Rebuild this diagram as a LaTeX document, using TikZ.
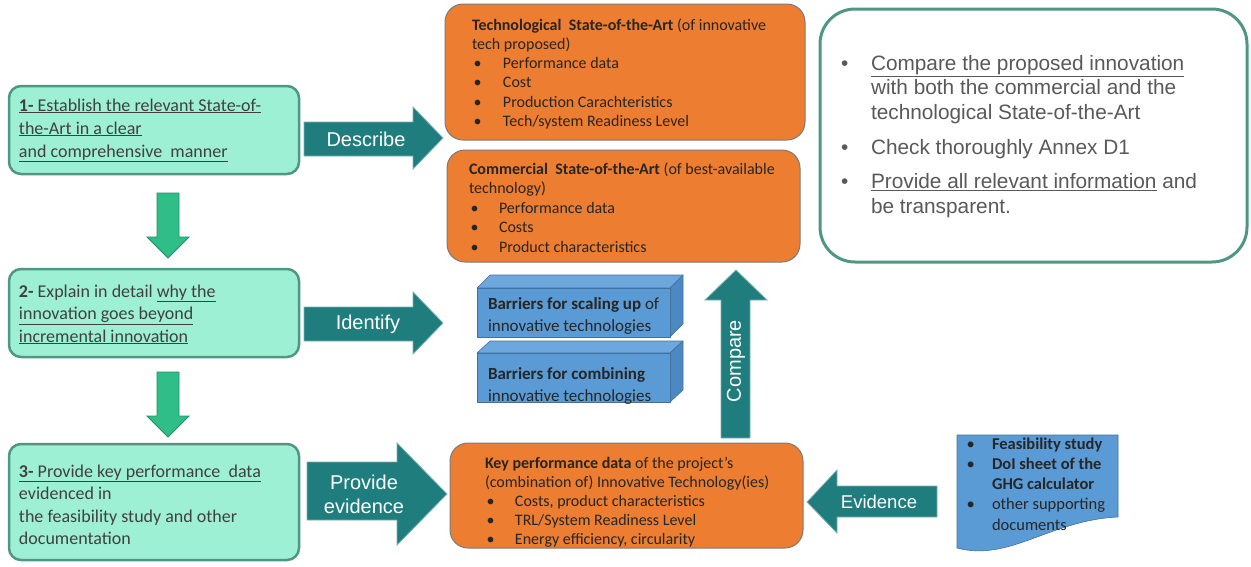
\documentclass[tikz,border=0pt]{standalone}
\usepackage{fontspec}
\setmainfont{Carlito}
\newfontfamily\arial{Liberation Sans}
\definecolor{mint}{HTML}{9EF0D5}
\definecolor{mintborder}{HTML}{4F9784}
\definecolor{txtgray}{HTML}{404040}
\definecolor{teal1}{HTML}{1F7D7D}
\definecolor{greenarr}{HTML}{2FBE88}
\definecolor{orng}{HTML}{ED7D31}
\definecolor{orborder}{HTML}{7A7A7A}
\definecolor{bluef}{HTML}{5B9BD5}
\definecolor{bluetop}{HTML}{6DA7DD}
\definecolor{blueside}{HTML}{4C88C2}
\definecolor{blueborder}{HTML}{41719C}
\definecolor{notegray}{HTML}{595959}
\definecolor{dark}{HTML}{262626}
\newcommand{\itm}[2]{\makebox[#1][l]{\hspace{1.5pt}\textbullet}#2}
\begin{document}
\begin{tikzpicture}[x=1pt,y=-1pt,
 stepbox/.style={draw=mintborder, line width=2.5pt, fill=mint, rounded corners=12pt},
 orbox/.style={draw=orborder, line width=1pt, fill=orng, rounded corners=18pt},
 txt/.style={anchor=base west, inner sep=0pt, outer sep=0pt},
 tealarrow/.style={fill=teal1, draw=teal1!60!white, line width=0.8pt},
 greenarrow/.style={fill=greenarr, draw=greenarr!75!black, line width=0.8pt},
 lbl/.style={text=white, font=\arial\fontsize{20}{24}\selectfont, inner sep=0pt, align=center},
 blueface/.style={draw=blueborder, line width=0.6pt, line join=round},
]
\useasboundingbox (0,0) rectangle (1251,566);

% ---------- left step boxes ----------
\node[stepbox, minimum width=290pt, minimum height=88pt] (s1) at (154,130) {};
\node[stepbox, minimum width=290pt, minimum height=88pt] (s2) at (154,313) {};
\node[stepbox, minimum width=290pt, minimum height=116pt] (s3) at (154,502) {};

\node[txt, text=txtgray] (t1) at (19,111) {\parbox[t]{280pt}{\fontsize{18}{23}\selectfont
 \underline{\textbf{1-} Establish the relevant State-of-}\\
 \underline{the-Art in a clear}\\
 \underline{and comprehensive\ \ manner}}};
\node[txt, text=txtgray] (t2) at (19,297) {\parbox[t]{280pt}{\fontsize{18}{22.5}\selectfont
 \textbf{2-} Explain in detail \underline{why the}\\
 \underline{innovation goes beyond}\\
 \underline{incremental innovation}}};
\node[txt, text=txtgray] (t3) at (19,477) {\parbox[t]{280pt}{\fontsize{18}{22.5}\selectfont
 \underline{\textbf{3-} Provide key performance\ \ data}\\
 evidenced in\\
 the feasibility study and other\\
 documentation}};

% ---------- green down arrows ----------
\path[greenarrow] (157,193) -- (179,193) -- (179,237) -- (189,237) -- (168,258) -- (147,237) -- (157,237) -- cycle;
\path[greenarrow] (157,372) -- (179,372) -- (179,416) -- (189,416) -- (168,437) -- (147,416) -- (157,416) -- cycle;

% ---------- teal block arrows ----------
\path[tealarrow] (304,122) -- (413,122) -- (413,107) -- (443,138) -- (413,169) -- (413,156) -- (304,156) -- cycle;
\node[lbl] (ldescribe) at (366,139) {Describe};
\path[tealarrow] (304,307) -- (413,307) -- (413,292) -- (443,323) -- (413,354) -- (413,341) -- (304,341) -- cycle;
\node[lbl] (lidentify) at (368,324) {Identify};
\path[tealarrow] (307,462) -- (397,462) -- (397,443) -- (447,494) -- (397,545) -- (397,520) -- (307,520) -- cycle;
\node[lbl] (lprovide) at (364,494) {Provide\\evidence};
\path[tealarrow] (721,438) -- (721,300) -- (705,300) -- (736,270) -- (767,300) -- (750,300) -- (750,438) -- cycle;
\node[lbl, rotate=90] (lcompare) at (736,361) {Compare};
\path[tealarrow] (937,486) -- (837,486) -- (837,470) -- (807,502) -- (837,533) -- (837,517) -- (937,517) -- cycle;
\node[lbl, font=\arial\fontsize{18.5}{22}\selectfont] (levidence) at (879,502) {Evidence};

% ---------- orange boxes ----------
\node[orbox, minimum width=360pt, minimum height=136pt] (tech) at (625,72) {};
\node[txt, text=dark] (ttech) at (472,30) {\parbox[t]{330pt}{\fontsize{16}{19.3}\selectfont
 \textbf{Technological\ \ State-of-the-Art} (of innovative\\
 tech proposed)\\
 \itm{31pt}{Performance data}\\
 \itm{31pt}{Cost}\\
 \itm{31pt}{Production Carachteristics}\\
 \itm{31pt}{Tech/system Readiness Level}}};

\node[orbox, minimum width=353pt, minimum height=112pt] (comm) at (623.5,206) {};
\node[txt, text=dark] (tcomm) at (469,174) {\parbox[t]{330pt}{\fontsize{16}{19.5}\selectfont
 \textbf{Commercial\ \ State-of-the-Art} (of best-available\\
 technology)\\
 \itm{30pt}{Performance data}\\
 \itm{30pt}{Costs}\\
 \itm{30pt}{Product characteristics}}};

\node[orbox, minimum width=353pt, minimum height=105pt] (key) at (626.5,495.5) {};
\node[txt, text=dark] (tkey) at (485,468) {\parbox[t]{320pt}{\fontsize{16}{19}\selectfont
 \textbf{Key performance data} of the project's\\
 (combination of) Innovative Technology(ies)\\
 \itm{30pt}{Costs, product characteristics}\\
 \itm{30pt}{TRL/System Readiness Level}\\
 \itm{30pt}{Energy efficiency, circularity}}};

% ---------- blue 3D barrier boxes ----------
\path[blueface, fill=bluetop] (477,288) -- (490,275) -- (683,275) -- (670,288) -- cycle;
\path[blueface, fill=blueside] (670,288) -- (683,275) -- (683,324) -- (670,337) -- cycle;
\node[blueface, fill=bluef, minimum width=193pt, minimum height=49pt, inner sep=0pt] (barA) at (573.5,312.5) {};
\node[txt, text=dark] (tbarA) at (488,309) {\parbox[t]{190pt}{\fontsize{17}{22}\selectfont
 \textbf{Barriers for scaling up} of\\
 innovative technologies}};

\path[blueface, fill=bluetop] (477,353) -- (490,341) -- (683,341) -- (670,353) -- cycle;
\path[blueface, fill=blueside] (670,353) -- (683,341) -- (683,390) -- (670,402) -- cycle;
\node[blueface, fill=bluef, minimum width=193pt, minimum height=49pt, inner sep=0pt] (barB) at (573.5,377.5) {};
\node[txt, text=dark] (tbarB) at (488,379) {\parbox[t]{190pt}{\fontsize{17}{22.5}\selectfont
 \textbf{Barriers for combining}\\
 innovative technologies}};

% ---------- note box ----------
\node[draw=mintborder, line width=3pt, fill=white, rounded corners=35pt, minimum width=427pt, minimum height=253pt] (note) at (1033.5,135.5) {};
\node[txt, text=notegray] (tnote) at (840,70) {\parbox[t]{400pt}{\arial\fontsize{20.8}{24.5}\selectfont
 \makebox[31pt][l]{\hspace{1pt}\textbullet}\underline{Compare\ the\ proposed\ innovation}\\
 \hspace*{31pt}with both the commercial and the\\
 \hspace*{31pt}technological State-of-the-Art\\[10.5pt]
 \makebox[31pt][l]{\hspace{1pt}\textbullet}Check thoroughly Annex D1\\[10pt]
 \makebox[31pt][l]{\hspace{1pt}\textbullet}\underline{Provide all relevant information} and\\
 \hspace*{31pt}be transparent.}};

% ---------- document shape ----------
\path[draw=blueborder, line width=0.6pt, fill=bluef] (957,435) -- (1118,435) -- (1118,517)
  .. controls (1050,520) and (1010,562) .. (957,548) -- cycle;
\node[txt, text=dark] (tdoc) at (965,449) {\parbox[t]{160pt}{\fontsize{16.5}{20.3}\selectfont
 \itm{27pt}{\textbf{Feasibility study}}\\
 \itm{27pt}{\textbf{DoI sheet of the}}\\
 \hspace*{27pt}\textbf{GHG calculator}\\
 \itm{27pt}{other supporting}\\
 \hspace*{27pt}documents}};
\end{tikzpicture}
\end{document}
